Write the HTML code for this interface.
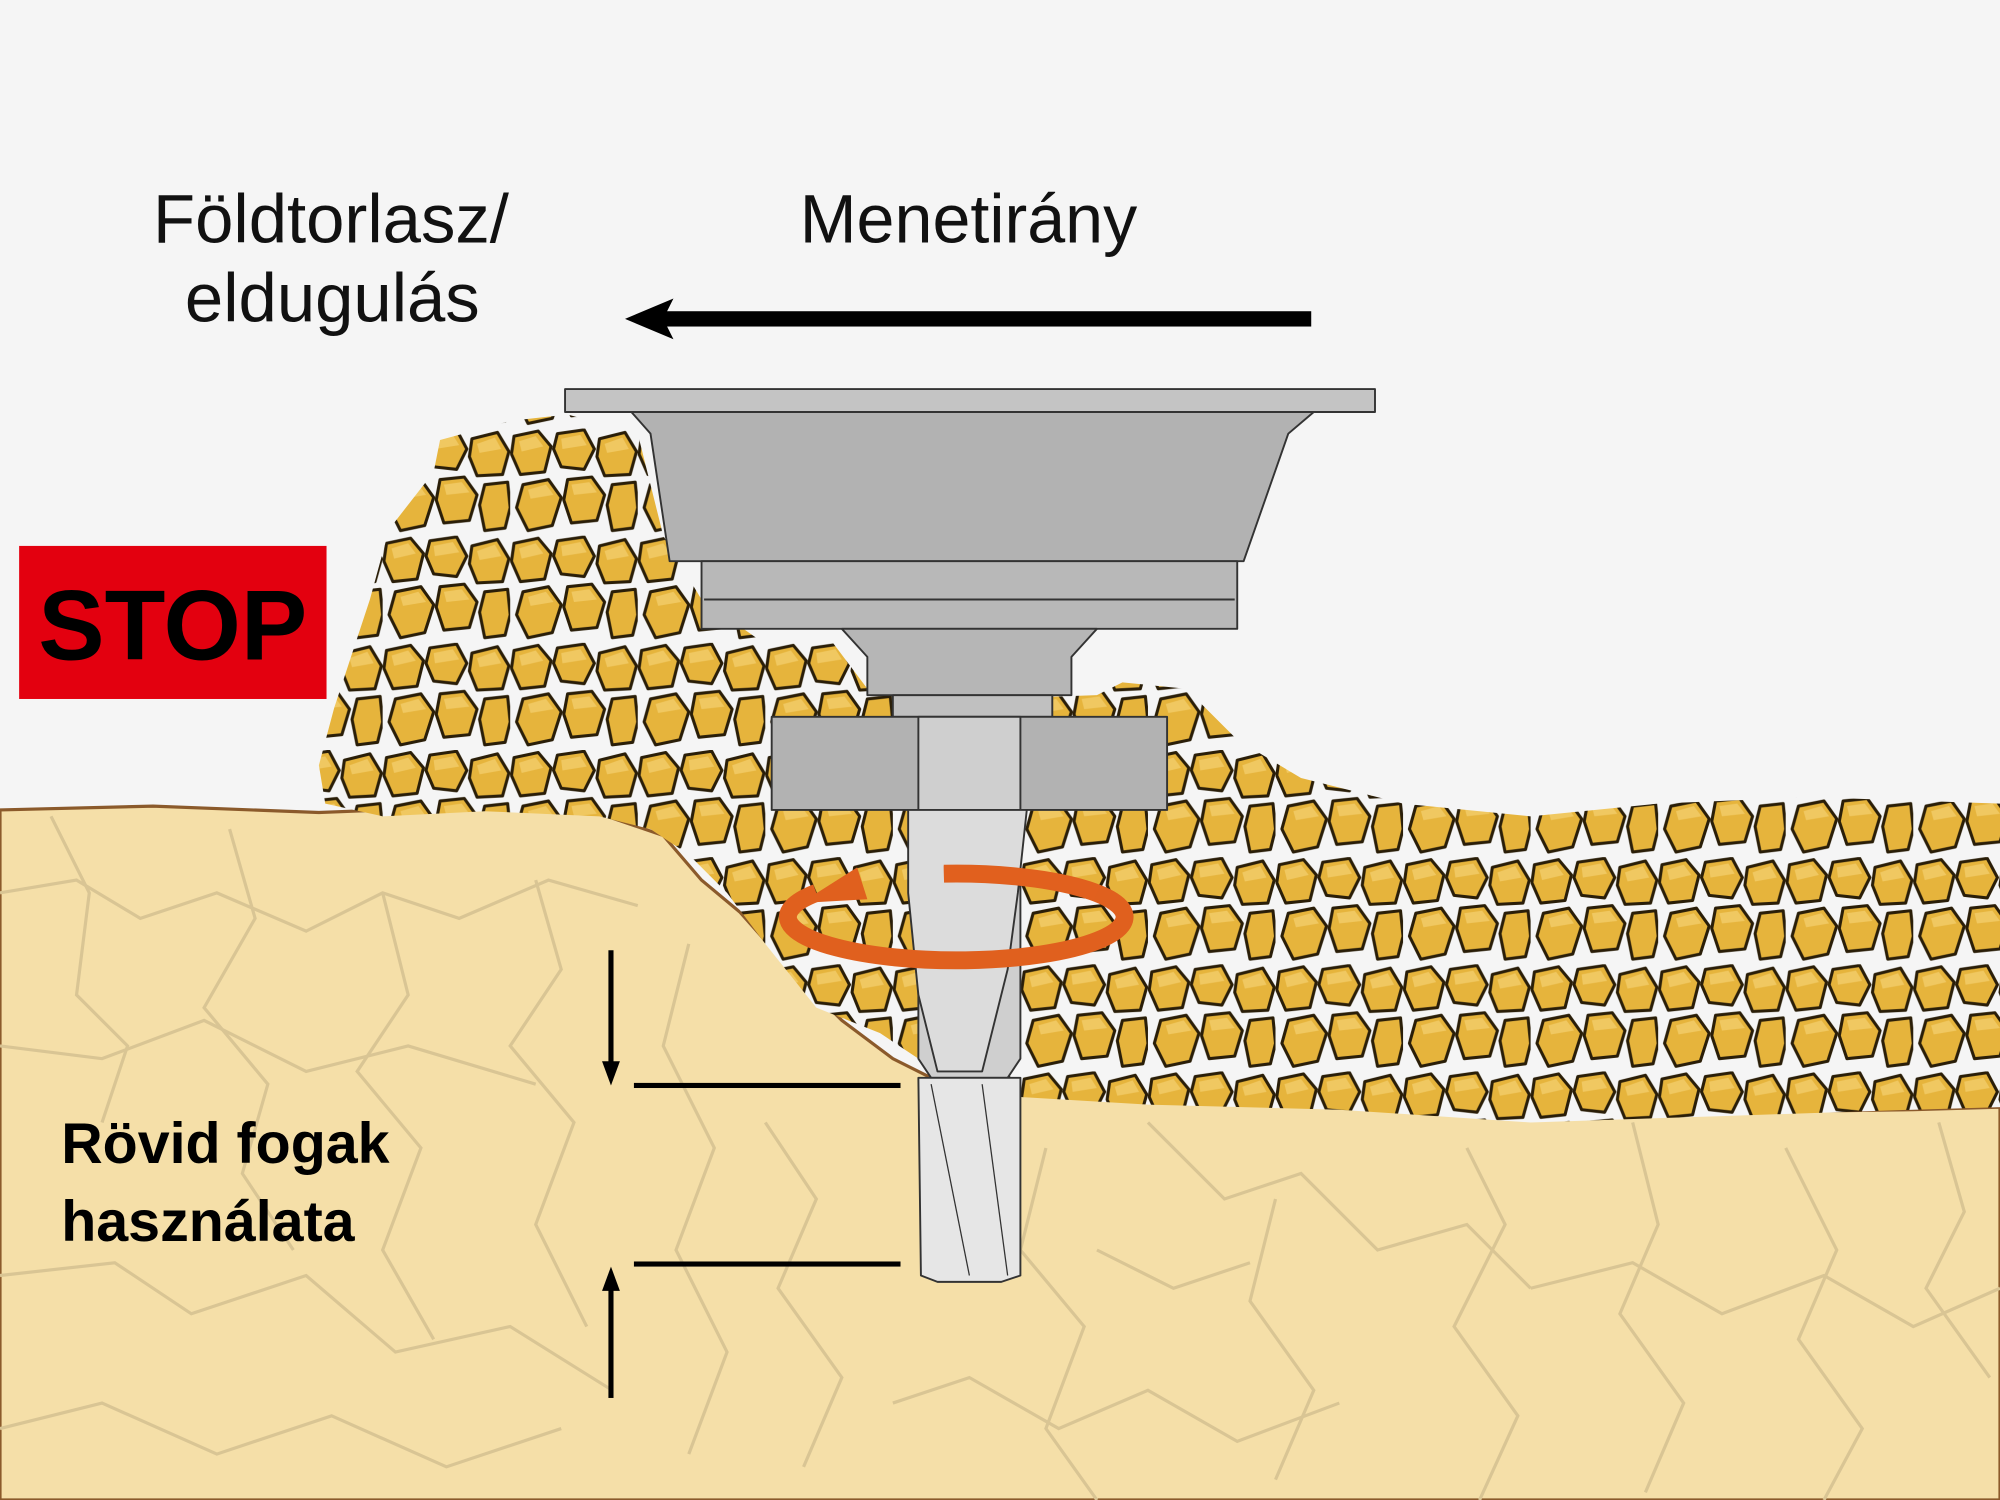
<!DOCTYPE html>
<html><head><meta charset="utf-8"><style>
html,body{margin:0;padding:0;background:#f5f5f5;}
svg{display:block;}
text{font-family:"Liberation Sans",Arial,sans-serif;}
</style></head><body>
<svg width="2000" height="1500" viewBox="0 0 1568 1176" xmlns="http://www.w3.org/2000/svg">
<defs>
<pattern id="rocks" width="100" height="84" patternUnits="userSpaceOnUse">
<rect width="100" height="84" fill="#f5f5f5"/>
<g fill="#e6b43c" stroke="#2a1e08" stroke-width="2.4" stroke-linejoin="round">
<path d="M3 6 L22 2 L32 14 L27 34 L8 36 L1 20Z"/>
<path d="M37 4 L58 1 L66 16 L58 32 L40 30 L34 16Z"/>
<path d="M70 8 L90 3 L99 18 L94 36 L74 37 L68 22Z"/>
<path d="M10 44 L30 40 L40 54 L33 76 L14 80 L5 62Z"/>
<path d="M45 40 L64 38 L74 52 L68 72 L48 74 L42 56Z"/>
<path d="M80 44 L98 42 L100 62 L96 78 L80 80 L76 60Z"/>
</g>
<g fill="#f8d880" opacity="0.55">
<path d="M7 10 L20 6 L26 14 L9 18Z"/>
<path d="M40 8 L55 5 L60 13 L41 16Z"/>
<path d="M74 12 L88 7 L93 16 L76 19Z"/>
<path d="M14 48 L28 44 L34 52 L16 55Z"/>
<path d="M48 44 L62 42 L68 50 L50 52Z"/>
</g>
</pattern>
</defs>

<!-- ground -->
<path d="M0 635 L120 632 L250 637 L380 632 L470 638 L520 655 L550 690 L580 715 L620 760 L660 800 L700 830 L740 850 L800 858 L900 862 L1050 868 L1200 872 L1350 872 L1500 870 L1568 868 L1568 1176 L0 1176Z" fill="#f5dfa8" stroke="#8b5a2b" stroke-width="2.5"/>
<g fill="none" stroke="#d9c594" stroke-width="2.5">
<polyline points="0,700 60,690 110,720 170,700 240,730 300,700 360,720 430,690 500,710"/>
<polyline points="40,640 70,700 60,780 100,820 80,880"/>
<polyline points="180,650 200,720 160,790 210,850 190,920 230,980"/>
<polyline points="300,700 320,780 280,840 330,900 300,980 340,1050"/>
<polyline points="0,820 80,830 160,800 240,840 320,820 420,850"/>
<polyline points="0,1000 90,990 150,1030 240,1000 310,1060 400,1040 480,1090"/>
<polyline points="420,690 440,760 400,820 450,880 420,960 460,1040"/>
<polyline points="540,740 520,820 560,900 530,980 570,1060 540,1140"/>
<polyline points="600,880 640,940 610,1010 660,1080 630,1150"/>
<polyline points="820,900 800,980 850,1040 820,1120 860,1176"/>
<polyline points="900,880 960,940 1020,920 1080,980 1150,960 1200,1010"/>
<polyline points="1000,940 980,1020 1030,1090 1000,1160"/>
<polyline points="1150,900 1180,960 1140,1040 1190,1110 1160,1176"/>
<polyline points="1280,880 1300,960 1270,1030 1320,1100 1290,1170"/>
<polyline points="1400,900 1440,980 1410,1050 1460,1120 1430,1176"/>
<polyline points="1200,1010 1280,990 1350,1030 1430,1000 1500,1040 1568,1010"/>
<polyline points="1520,880 1540,950 1510,1010 1560,1080"/>
<polyline points="0,1120 80,1100 170,1140 260,1110 350,1150 440,1120"/>
<polyline points="700,1100 760,1080 830,1120 900,1090 970,1130 1050,1100"/>
<polyline points="860,980 920,1010 980,990"/>
</g>

<!-- gravel -->
<path d="M250 600 L262 555 L290 470 L305 415 L340 370 L345 345 L400 330 L445 325 L500 340 L520 420 L550 470 L600 505 L650 500 L680 540 L720 550 L860 545 L880 535 L930 540 L970 580 L1020 610 L1100 630 L1200 640 L1300 630 L1420 625 L1568 630 L1568 868 L1500 870 L1350 875 L1200 880 L1050 870 L900 866 L800 860 L760 850 L720 830 L690 810 L640 790 L600 740 L570 700 L540 670 L510 650 L470 640 L380 636 L300 640 L255 630Z" fill="url(#rocks)"/>

<!-- funnel -->
<g stroke="#333" stroke-width="1.5" stroke-linejoin="round">
<rect x="443" y="305" width="635" height="18" fill="#c4c4c4"/>
<path d="M495 323 L1030 323 L1010 340 L975 440 L525 440 L510 340Z" fill="#b2b2b2"/>
<rect x="550" y="440" width="420" height="53" fill="#b8b8b8"/>
<line x1="552" y1="470" x2="968" y2="470"/>
<path d="M660 493 L860 493 L840 515 L840 545 L680 545 L680 515Z" fill="#b6b6b6"/>
<rect x="700" y="545" width="125" height="17" fill="#c0c0c0"/>
<rect x="605" y="562" width="310" height="73" fill="#b2b2b2"/>
<path d="M720 562 L800 562 L800 830 L790 845 L730 845 L720 830Z" fill="#cfcfcf"/>
<path d="M720 845 L800 845 L800 1000 L785 1005 L735 1005 L722 1000Z" fill="#e6e6e6"/>
<path d="M712 635 L805 635 L798 700 L790 760 L770 840 L735 840 L720 780 L712 700Z" fill="#dcdcdc"/>
<line x1="730" y1="850" x2="760" y2="1000" stroke-width="1"/>
<line x1="770" y1="850" x2="790" y2="1000" stroke-width="1"/>
</g>

<!-- rotation arrow -->
<path d="M640 700 A132 34 0 1 0 740 685" fill="none" stroke="#e0601e" stroke-width="14"/>
<path d="M740 685 A132 34 0 0 1 860 700" fill="none" stroke="#e0601e" stroke-width="12" opacity="0.85"/>
<polygon points="628,708 672,680 680,705" fill="#e0601e"/>

<!-- texts -->
<text x="120" y="190" font-size="54" fill="#111">Földtorlasz/</text>
<text x="145" y="252" font-size="54" fill="#111">eldugulás</text>
<text x="627" y="190" font-size="53.5" fill="#111">Menetirány</text>
<rect x="512" y="244" width="516" height="12" fill="#000"/>
<polygon points="490,250 528,234 520,250 528,266" fill="#000"/>

<rect x="15" y="428" width="241" height="120" fill="#e3000f"/>
<text x="30" y="517" font-size="78" font-weight="bold" fill="#000">STOP</text>

<text x="48" y="912" font-size="45" font-weight="bold" fill="#000">Rövid fogak</text>
<text x="48" y="973" font-size="45" font-weight="bold" fill="#000">használata</text>

<rect x="497" y="849" width="209" height="4" fill="#000"/>
<rect x="497" y="989" width="209" height="4" fill="#000"/>
<rect x="477" y="745" width="4" height="92" fill="#000"/>
<polygon points="472,832 486,832 479,851" fill="#000"/>
<rect x="477" y="1008" width="4" height="88" fill="#000"/>
<polygon points="472,1012 486,1012 479,993" fill="#000"/>
</svg>
</body></html>
